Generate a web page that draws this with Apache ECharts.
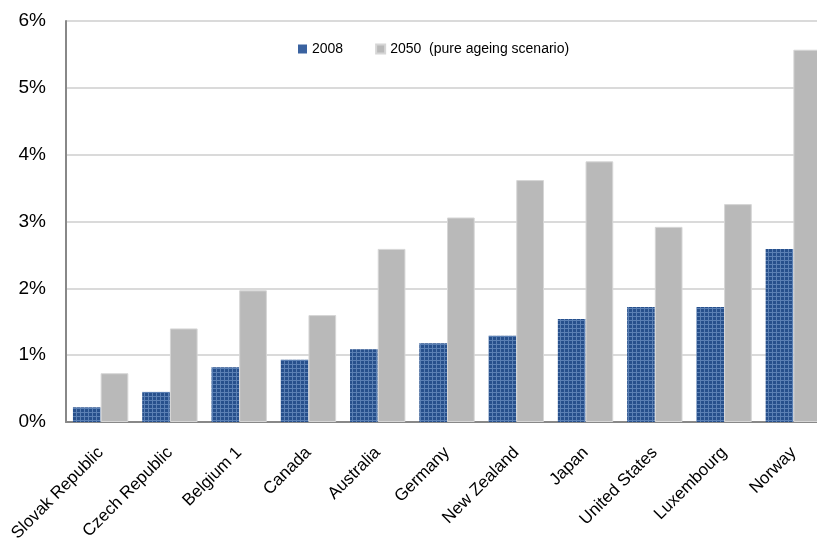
<!DOCTYPE html>
<html>
<head>
<meta charset="utf-8">
<script src="https://cdn.jsdelivr.net/npm/echarts@6/dist/echarts.min.js"></script>
<style>
  html, body { margin: 0; padding: 0; background: #ffffff; }
  #chart { width: 817px; height: 539px; }
</style>
</head>
<body>
<div id="chart"></div>
<script>
// Countries shown on the x axis
var countries = ['Slovak Republic', 'Czech Republic', 'Belgium 1', 'Canada', 'Australia',
  'Germany', 'New Zealand', 'Japan', 'United States', 'Luxembourg', 'Norway'];

// Spending as a share of GDP (%)
var values2008 = [0.22, 0.45, 0.82, 0.93, 1.09, 1.18, 1.29, 1.54, 1.72, 1.72, 2.59];
var values2050 = [0.73, 1.40, 1.97, 1.60, 2.59, 3.06, 3.62, 3.90, 2.92, 3.26, 5.57];

var seriesNames = ['2008', '2050  (pure ageing scenario)'];
var yTicks = { min: 0, max: 6, interval: 1 };

// Small checkered tile used for the 2008 bars
function makeTile() {
  var c = document.createElement('canvas');
  c.width = 4; c.height = 4;
  var g = c.getContext('2d');
  g.fillStyle = '#27508c';
  g.fillRect(0, 0, 4, 4);
  g.fillStyle = '#5b80b4';
  g.fillRect(0, 0, 4, 1);
  g.fillRect(0, 0, 1, 4);
  return c;
}
var tile = makeTile();

var chart = echarts.init(document.getElementById('chart'), null, { renderer: 'canvas' });

chart.setOption({
  animation: false,
  backgroundColor: '#ffffff',
  textStyle: { fontFamily: 'Liberation Sans, Arial, sans-serif' },
  legend: {
    top: 37,
    left: 293,
    itemWidth: 9,
    itemHeight: 9,
    itemGap: 32,
    icon: 'rect',
    textStyle: { fontSize: 14, color: '#000000', fontFamily: 'Liberation Sans, Arial, sans-serif' },
    data: [
      { name: seriesNames[0], itemStyle: { color: '#3a62a0' } },
      { name: seriesNames[1], itemStyle: { color: '#b9b9b9' } }
    ]
  },
  // the plot runs slightly past the right edge, clipping the last bar
  grid: { left: 66, right: -11, top: 21, bottom: 117, containLabel: false, outerBoundsMode: 'none' },
  xAxis: {
    type: 'category',
    data: countries,
    axisLine: { show: true, lineStyle: { color: '#888888', width: 2 } },
    axisTick: { show: false },
    axisLabel: {
      interval: 0,
      rotate: 45,
      margin: 28,
      fontSize: 17,
      color: '#000000',
      fontFamily: 'Liberation Sans, Arial, sans-serif'
    }
  },
  yAxis: {
    type: 'value',
    min: yTicks.min,
    max: yTicks.max,
    interval: yTicks.interval,
    axisLine: { show: true, lineStyle: { color: '#888888', width: 2 } },
    axisTick: { show: false },
    splitLine: { show: true, lineStyle: { color: '#dadada', width: 2 } },
    axisLabel: {
      formatter: '{value}%',
      margin: 20,
      fontSize: 19,
      color: '#000000',
      fontFamily: 'Liberation Sans, Arial, sans-serif'
    }
  },
  series: [
    {
      name: seriesNames[0],
      type: 'bar',
      data: values2008,
      barGap: '0%',
      barCategoryGap: '20%',
      itemStyle: { color: { image: tile, repeat: 'repeat' } }
    },
    {
      name: seriesNames[1],
      type: 'bar',
      data: values2050,
      barGap: '0%',
      barCategoryGap: '20%',
      itemStyle: { color: '#b9b9b9', borderColor: '#d6d6d6', borderWidth: 1 }
    }
  ]
});
</script>
</body>
</html>
